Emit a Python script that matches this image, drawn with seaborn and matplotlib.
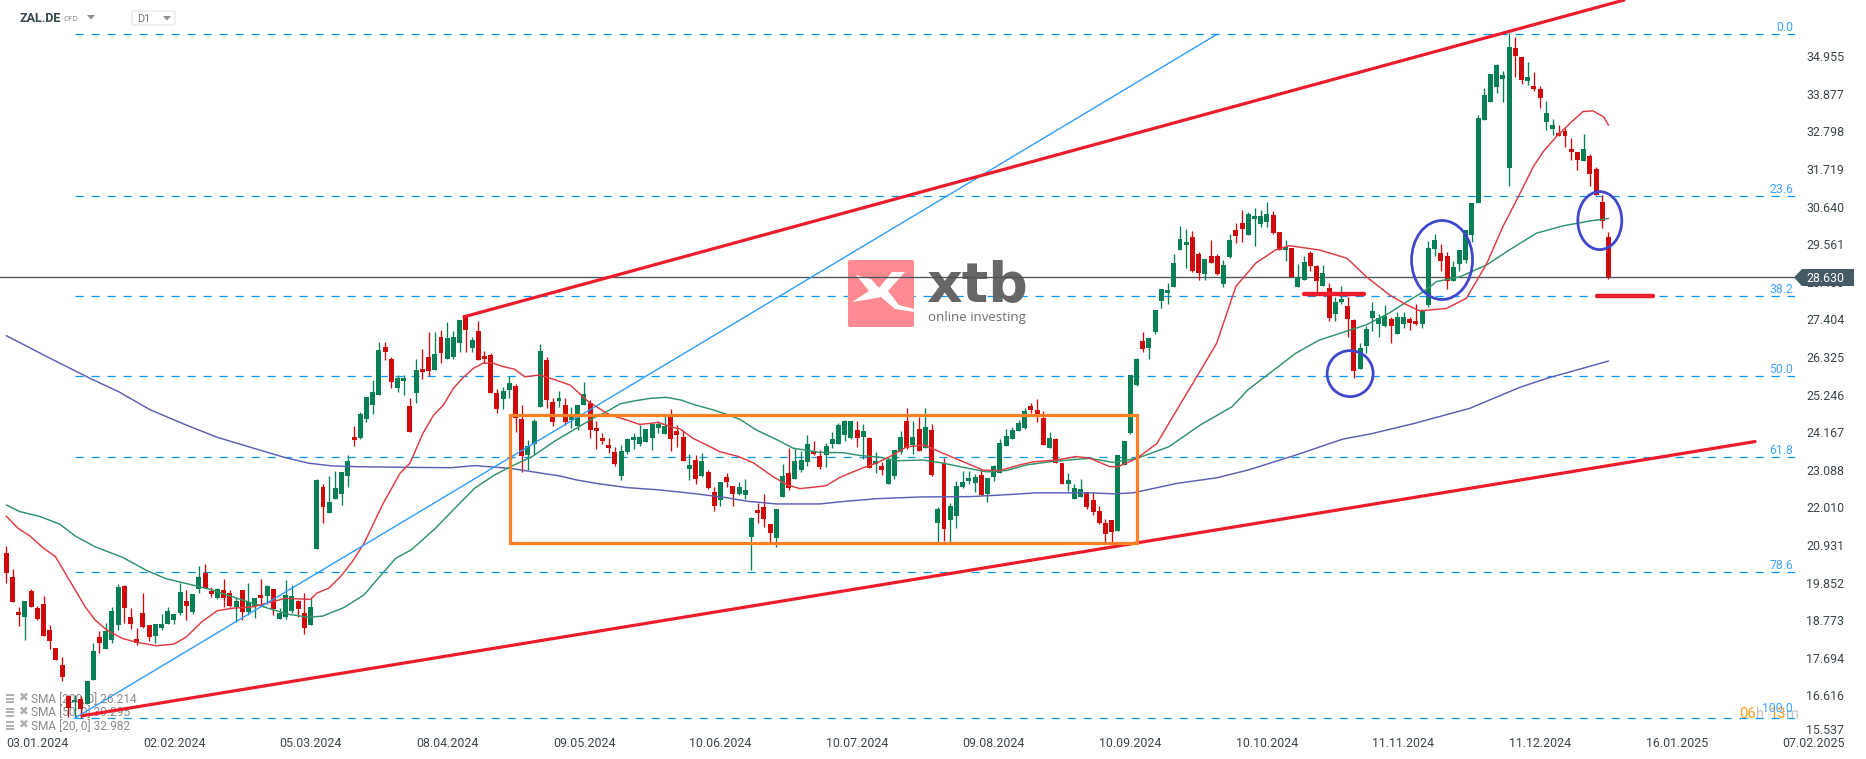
import matplotlib
matplotlib.use("Agg")
import matplotlib.pyplot as plt
import seaborn as sns
import numpy as np
import pandas as pd
from matplotlib.patches import Ellipse, Rectangle, Polygon, FancyBboxPatch
from matplotlib.transforms import Affine2D, ScaledTranslation

opens = [20.71,20.02,19.01,18.87,19.61,19.12,19.24,18.50,17.98,17.49,
 16.60,16.43,16.52,16.37,17.06,18.30,17.95,18.21,18.64,19.76,
 18.87,18.24,18.99,18.64,18.33,18.55,18.67,18.78,18.99,19.33,
 19.01,19.67,20.13,19.62,19.42,19.65,19.56,19.16,19.65,19.01,
 19.19,19.50,19.47,19.67,18.81,18.87,19.04,19.33,18.99,18.64,
 20.81,22.59,21.85,22.25,22.39,22.91,24.03,24.00,24.54,24.95,
 25.23,26.61,26.27,25.43,25.64,24.92,25.29,25.98,26.32,25.95,
 26.90,26.27,26.32,26.73,27.53,26.58,27.07,26.35,26.38,25.29,
 25.12,25.38,25.49,24.54,23.51,23.83,24.89,26.24,25.03,25.06,
 24.95,24.52,24.35,24.95,25.01,24.29,24.01,23.80,23.60,22.92,
 23.60,23.95,23.83,23.89,24.01,24.29,24.12,24.64,24.21,24.03,
 23.12,23.38,22.92,23.03,22.46,22.23,22.89,22.63,22.40,22.37,
 21.16,21.94,22.02,21.54,21.13,22.31,23.00,22.83,23.09,23.32,
 23.63,23.49,23.52,23.83,23.83,24.09,24.01,24.24,24.03,24.01,
 23.26,23.20,22.69,22.91,23.60,24.49,23.80,24.26,23.72,24.24,
 21.56,23.29,21.65,21.76,22.60,22.77,22.71,22.94,22.40,22.89,
 23.00,23.77,23.98,24.21,24.29,24.92,24.81,24.58,23.72,23.98,
 23.29,22.69,22.25,22.31,22.43,22.23,21.91,21.56,21.65,21.34,
 23.23,24.16,25.52,26.79,26.58,27.04,27.93,28.16,28.34,29.40,
 29.54,29.77,29.28,28.71,29.23,29.23,28.42,29.20,29.97,30.17,
 29.83,30.29,30.14,30.20,30.40,29.91,29.40,29.46,28.34,28.54,
 29.31,28.94,28.36,28.31,27.56,27.91,27.79,27.39,25.98,26.64,
 27.45,27.27,27.22,27.42,26.99,27.27,27.42,27.36,27.27,27.82,
 29.43,29.31,29.22,28.51,28.99,29.11,29.83,30.75,33.13,33.65,
 34.08,34.31,31.75,35.20,34.94,34.25,34.11,34.02,33.07,32.87,
 32.76,32.81,32.30,32.21,31.95,32.10,31.72,30.78,29.77]
highs = [20.91,20.25,19.16,19.33,19.66,19.18,19.47,18.64,17.98,17.72,
 16.63,16.63,16.60,17.03,18.12,18.47,18.70,19.16,19.82,19.79,
 19.13,18.55,19.56,18.64,18.67,18.96,19.16,18.96,19.85,19.65,
 19.53,20.33,20.39,19.73,19.70,19.96,19.65,19.42,19.65,19.85,
 19.42,19.96,19.79,19.67,19.13,19.93,19.79,19.36,19.56,19.44,
 22.82,22.68,22.91,23.05,23.02,23.51,24.34,24.75,25.18,25.66,
 26.75,26.75,26.32,25.81,25.81,25.15,26.27,26.55,27.04,27.04,
 27.10,27.33,27.07,27.39,27.53,26.90,27.36,26.50,26.44,25.40,
 25.46,25.78,25.55,24.95,23.94,24.54,26.70,26.32,25.15,25.35,
 25.15,24.89,24.95,25.61,25.10,24.49,24.15,24.01,23.75,23.80,
 24.01,24.15,24.38,24.26,24.44,24.49,24.64,24.84,24.38,24.24,
 23.55,23.52,23.58,23.09,22.60,22.74,23.00,22.63,22.74,22.83,
 21.74,22.14,22.40,21.54,21.97,23.26,23.72,23.72,23.63,24.09,
 23.92,23.66,23.86,24.18,24.44,24.52,24.49,24.49,24.41,24.03,
 23.60,23.32,23.46,23.66,24.21,24.87,24.49,24.61,24.87,24.41,
 22.02,23.43,22.14,22.77,23.06,23.06,22.97,23.12,22.86,23.23,
 23.98,24.26,24.32,24.52,24.87,25.01,25.12,24.78,24.18,24.01,
 23.29,23.00,22.69,22.83,22.46,22.43,22.05,21.68,21.65,23.52,
 23.92,25.81,26.30,27.04,26.87,27.68,28.28,28.45,29.28,30.09,
 30.00,29.94,29.34,29.14,29.69,29.28,29.11,29.86,30.17,30.55,
 30.49,30.60,30.55,30.78,30.52,29.91,29.69,29.46,29.00,29.23,
 29.37,28.97,28.97,28.45,28.05,28.36,28.05,27.42,26.73,27.22,
 27.91,27.56,27.82,27.47,27.62,27.62,27.47,27.85,27.70,29.66,
 29.86,29.57,29.34,29.08,29.40,29.97,30.75,33.27,34.05,34.45,
 34.74,34.54,35.62,35.51,34.94,34.79,34.51,34.11,33.67,33.16,
 32.99,32.90,32.61,32.21,32.73,32.15,31.78,30.98,29.91]
lows = [19.83,19.30,18.61,18.21,19.16,18.78,18.33,17.95,17.64,17.03,
 16.01,15.96,15.96,16.37,17.06,17.84,17.95,18.12,18.50,18.70,
 18.53,18.07,18.55,18.18,18.12,18.50,18.67,18.67,18.93,18.78,
 18.96,19.56,19.70,19.44,19.39,19.16,19.16,18.73,18.78,18.93,
 18.84,19.17,19.24,18.93,18.81,18.81,18.99,18.88,18.38,18.64,
 20.81,21.56,21.85,22.25,22.07,22.59,23.77,23.97,24.46,24.69,
 25.23,26.24,25.43,25.32,25.23,24.17,25.00,25.69,25.78,25.95,
 26.15,26.27,26.27,26.47,26.47,26.47,26.24,26.15,25.29,24.72,
 24.83,25.15,24.17,23.02,23.08,23.54,24.89,24.86,24.34,24.89,
 24.37,24.29,24.24,24.95,24.01,23.69,23.83,23.58,23.20,22.80,
 23.55,23.69,23.78,23.89,23.66,24.15,24.12,23.63,23.75,23.35,
 22.80,22.69,22.89,22.54,21.91,22.05,22.60,22.05,22.37,22.25,
 20.22,21.56,21.45,20.99,20.88,22.31,22.51,22.83,23.03,23.20,
 23.52,23.12,23.17,23.72,23.83,23.92,23.98,23.75,23.40,23.14,
 23.00,22.94,22.69,22.83,23.55,23.69,23.55,23.63,23.72,22.91,
 21.02,21.05,21.02,21.42,22.57,22.69,22.46,22.37,22.17,22.77,
 23.00,23.77,23.98,24.21,24.26,24.72,24.46,23.80,23.72,23.29,
 22.69,22.48,22.25,22.31,21.97,21.79,21.54,20.98,20.98,21.34,
 23.23,24.13,25.49,26.47,26.27,26.99,27.73,27.85,28.34,29.40,
 28.88,28.77,28.54,28.54,29.03,28.68,28.34,29.17,29.60,29.63,
 29.83,29.51,30.06,30.06,29.86,29.40,29.08,28.62,28.34,28.54,
 28.80,28.19,28.36,27.36,27.36,27.85,26.90,25.72,25.98,26.44,
 27.07,26.90,27.19,26.73,26.99,27.16,27.10,27.24,27.16,27.76,
 29.22,28.79,28.28,28.51,28.79,29.02,29.63,30.75,33.13,33.65,
 33.91,33.65,31.23,34.36,34.16,34.13,33.96,33.47,32.84,32.70,
 32.67,32.35,31.98,31.69,31.95,31.23,30.98,30.03,28.56]
closes = [20.13,19.30,18.93,19.33,19.16,18.81,18.33,18.18,17.64,17.15,
 16.26,16.49,16.23,17.03,17.89,18.12,18.47,19.04,19.73,19.13,
 18.67,18.12,18.58,18.30,18.67,18.67,19.04,18.96,19.59,19.19,
 19.53,20.02,19.70,19.53,19.67,19.42,19.19,19.33,19.01,19.30,
 19.42,19.42,19.76,19.10,18.99,19.50,19.47,19.10,18.55,19.16,
 22.79,22.02,22.16,22.56,23.02,23.34,23.94,24.69,25.18,25.32,
 26.53,26.47,25.61,25.72,25.72,24.17,25.95,25.89,25.92,26.41,
 26.44,26.87,26.90,27.39,27.10,26.81,26.24,26.27,25.29,24.83,
 25.35,25.58,24.57,23.48,23.77,24.49,26.50,25.09,24.46,25.15,
 24.46,24.61,24.95,25.27,24.24,24.21,23.92,23.72,23.26,23.63,
 23.98,24.03,24.03,24.26,24.41,24.41,24.35,23.98,24.09,23.35,
 23.23,22.83,23.35,22.57,22.05,22.74,22.74,22.40,22.60,22.51,
 21.71,21.85,21.68,21.28,21.97,22.91,22.57,23.35,23.38,23.83,
 23.55,23.17,23.77,23.98,24.38,24.49,24.49,24.01,24.21,23.14,
 23.35,23.09,23.38,23.66,24.03,23.72,24.03,23.63,24.32,22.94,
 21.97,21.39,22.05,22.63,22.74,22.86,22.89,22.37,22.86,23.20,
 23.86,24.06,24.23,24.43,24.78,24.81,24.64,23.80,24.01,23.29,
 22.69,22.80,22.57,22.54,22.02,21.88,21.56,21.25,21.31,23.52,
 23.92,25.81,26.27,26.56,26.87,27.68,28.28,28.25,29.03,29.71,
 29.63,28.80,28.74,29.14,29.03,28.71,28.97,29.69,29.80,30.00,
 30.43,30.37,30.37,30.43,29.89,29.40,29.48,28.62,28.62,29.05,
 28.94,28.51,28.74,27.45,27.91,27.99,27.42,25.92,26.59,27.13,
 27.65,27.45,27.50,27.22,27.47,27.47,27.30,27.27,27.64,29.45,
 29.68,29.08,28.51,28.91,29.40,29.97,30.75,33.19,33.85,34.45,
 34.71,34.42,35.22,34.97,34.28,34.36,34.02,33.76,33.33,32.99,
 32.67,32.67,32.21,31.98,32.30,31.58,30.98,30.23,28.63]

sma20_at = [0,1.9,3.8,6,7.9,9.5,11.1,12.7,14.3,16.2,18.7,21.3,24.2,27,28.9,31.5,34,36.6,39.8,42.3,44.9,49,50,51.9,53.8,55.7,57.6,60.7,63.4,65,67.1,68.8,70.4,72,73.6,75.2,76.8,78.4,80,81.8,83.5,85.9,88.4,90.8,93.7,96.7,98,99.9,102,105,106.9,108.5,110.6,112.8,114.9,117.9,120.3,123.5,125.7,127.8,131,132.1,134.2,138,140.1,142.3,145,147.9,150.9,154.1,157.3,160,163.2,165.4,169.1,172.3,174.5,177.7,179,182.1,185.3,188.5,191.7,194.9,198,201.2,204.4,206.6,211.4,215.9,219,222.8,225,227.6,231.9,235.1,236.2,238.4,241,243.5,245.9,247.5,249.6,251.8,253.9,255.5,257.2,258]
sma20_val = [21.76,21.41,21.19,20.84,20.60,20.12,19.64,19.16,18.78,18.49,18.25,18.13,18.04,18.09,18.28,18.73,19.05,19.12,19.16,19.28,19.40,19.37,19.55,19.69,20.02,20.45,20.98,22.13,22.99,23.28,24.14,24.66,24.95,25.43,25.74,26.00,26.15,26.15,26.05,25.98,25.76,25.81,25.67,25.52,25.05,24.71,24.62,24.52,24.39,24.45,24.33,24.26,23.99,23.80,23.61,23.47,23.29,22.89,22.66,22.55,22.61,22.64,22.87,23.15,23.28,23.47,23.75,23.80,23.56,23.32,23.08,23.07,23.23,23.32,23.37,23.47,23.42,23.18,23.18,23.42,23.85,24.81,25.76,26.72,28.35,29.02,29.40,29.52,29.40,29.16,28.63,28.10,27.87,27.65,27.72,28.01,28.34,29.01,30.07,30.93,31.79,32.22,32.65,33.03,33.37,33.39,33.22,32.98]

sma50_at = [0,2.2,5.4,8.6,11.1,14.3,18.7,22.6,25.8,28.9,32.8,37.2,42.3,45.5,48.7,50.9,54.4,57.6,60.1,62.7,65.2,69.1,72.2,75.4,78.6,81.8,84.7,88.2,91.8,94.5,96.7,98.8,100.9,103.7,106.3,108.7,110.6,113.8,115.5,118.1,120.8,124,126.7,131,134.8,137.5,140.7,143.4,147.7,150.9,154.1,157.9,161.1,164.3,168,172.3,174.5,178.3,182.1,187.2,192.3,197.4,199.9,203.8,207.6,211.4,215.2,219,222.8,225.5,228.2,230.3,234.1,238.4,241.6,246.4,250.7,255,258]
sma50_val = [22.08,21.89,21.75,21.53,21.19,20.88,20.58,20.20,19.96,19.83,19.66,19.40,19.11,18.94,18.86,18.89,19.14,19.50,20.02,20.55,20.79,21.41,21.98,22.56,22.94,23.23,23.47,23.90,24.28,24.57,24.76,24.98,25.06,25.14,25.17,25.09,24.97,24.81,24.71,24.54,24.23,23.96,23.71,23.59,23.58,23.50,23.45,23.35,23.37,23.28,23.16,23.03,23.07,23.23,23.32,23.39,23.42,23.30,23.42,23.75,24.38,24.90,25.38,25.91,26.43,26.81,27.03,27.25,27.60,27.91,28.20,28.49,28.63,28.97,29.35,29.88,30.09,30.23,30.30]

sma200_at = [0,6.6,14,18.1,23.2,28.9,34,39.8,44.9,48.7,52.5,56.3,64.6,71.6,75.4,81.2,89.2,91.8,95,99.9,105.3,110.6,116,119.2,124,131,134.8,140.1,147.1,155.2,161.6,165.9,174.5,178.3,181.5,188.5,194.9,199.9,207.6,215.2,219.7,226.7,235.6,243.8,248,258]
sma200_val = [26.94,26.33,25.67,25.33,24.81,24.38,24.02,23.71,23.44,23.28,23.20,23.18,23.16,23.15,23.21,23.13,22.91,22.80,22.70,22.58,22.51,22.41,22.29,22.19,22.11,22.11,22.18,22.26,22.31,22.32,22.38,22.43,22.43,22.40,22.43,22.70,22.86,23.08,23.51,23.97,24.12,24.42,24.85,25.46,25.71,26.21]

fib_levels = [35.59, 30.96, 28.09, 25.77, 23.46, 20.16, 15.96]
fib_labels = ["0.0", "23.6", "38.2", "50.0", "61.8", "78.6", "100.0"]
last_price = 28.63
price_ticks = [34.955,33.877,32.798,31.719,30.640,29.561,28.483,27.404,26.325,25.246,24.167,23.088,22.010,20.931,19.852,18.773,17.694,16.616,15.537]
date_ticks = [0,22,44,66,88,110,132,154,176,198,220,242,264,286]
date_labels = ["03.01.2024","02.02.2024","05.03.2024","08.04.2024","09.05.2024","10.06.2024","10.07.2024","09.08.2024","10.09.2024","10.10.2024","11.11.2024","11.12.2024","16.01.2025","07.02.2025"]
legend_rows = ["SMA [200, 0] 26.214", "SMA [50, 0] 30.295", "SMA [20, 0] 32.982"]

W, H = 1866, 759
sns.set_theme(style="white")
plt.rcParams["font.family"] = ["Roboto", "DejaVu Sans"]

df = pd.DataFrame({"o": opens, "h": highs, "l": lows, "c": closes})
df["i"] = np.arange(len(df))
df["up"] = df.c >= df.o
GREEN, RED = "#067f55", "#cf0a0a"
df["col"] = np.where(df.up, GREEN, RED)

fig = plt.figure(figsize=(W / 100, H / 100), dpi=100, facecolor="white")
AX_R, AX_B = 1795, 733
ax = fig.add_axes([0, (H - AX_B) / H, AX_R / W, AX_B / H])
ax.set_facecolor("none")
px_x0, px_dx = 6.3, 6.21
ax.set_xlim(-px_x0 / px_dx, (AX_R - px_x0) / px_dx)
ax.set_ylim(15.538, 36.571)
sns.despine(ax=ax, left=True, bottom=True, right=True, top=True)

px = Affine2D().scale(1 / W, -1 / H).translate(0, 1) + fig.transFigure

FIB = "#0a97ff"
ax.hlines(fib_levels, 11, (AX_R - px_x0) / px_dx, colors=FIB, lw=0.9,
          linestyles=[(0, (6.6, 6.2))], zorder=1)
for lv, lb in zip(fib_levels, fib_labels):
    if lb == "100.0":
        ax.text(1793, 709, lb, transform=px, ha="right", va="center", fontsize=8.8, color="#3fa4ff", zorder=2, clip_on=False)
    else:
        ax.text(1793 / AX_R, lv, lb, transform=ax.get_yaxis_transform(), ha="right", va="bottom",
                fontsize=8.8, color="#3fa4ff", zorder=2)

ax.axhline(last_price, color="#4a545a", lw=0.95, zorder=1.2)

for y, t in zip([700, 713.5, 727], legend_rows):
    ax.text(31, y, t, transform=px, ha="left", va="center", fontsize=8.6, color="#8a8a8a", zorder=1.3)
    ax.add_patch(Rectangle((6, y - 6), 8, 2.4, transform=px, color="#b0b0b0", lw=0, zorder=1.3))
    ax.add_patch(Rectangle((6, y - 2.5), 8, 2.4, transform=px, color="#b0b0b0", lw=0, zorder=1.3))
    ax.add_patch(Rectangle((6, y + 1), 8, 2.4, transform=px, color="#b0b0b0", lw=0, zorder=1.3))
    ax.text(23.5, y - 2, "\u2716", transform=px, ha="center", va="center", fontsize=8.5, color="#b0b0b0",
            family="DejaVu Sans", zorder=1.3)

ax.add_patch(FancyBboxPatch((848, 260), 66, 67, boxstyle="round,pad=0,rounding_size=2", transform=px,
                            fc="#ff8a92", ec="none", zorder=1.1))
ax.add_patch(Polygon([(856, 275), (871, 279), (879, 288), (892, 272), (905, 272), (888, 291),
                      (899, 305), (914, 309), (914, 312), (895, 309), (881, 297), (871, 299), (852, 302),
                      (869, 291)], closed=True, transform=px, fc="white", ec="none", zorder=1.15))
ax.text(926, 286, "xtb", transform=px, ha="left", va="center", fontsize=40, fontweight="bold",
        family="DejaVu Sans", color="#666666", zorder=1.15)
ax.text(928, 317, "online investing", transform=px, ha="left", va="center", fontsize=9.6,
        family="Open Sans", color="#6e6e6e", zorder=1.15)

ax.vlines(df.i, df.l, df.h, colors=df.col, lw=0.95, zorder=3)
ax.bar(df.i, (df.c - df.o).abs(), bottom=df[["o", "c"]].min(axis=1), width=0.8, color=df.col, lw=0, zorder=3.1)

for xs, ys, c in [(sma200_at, sma200_val, "#5b5fb5"), (sma50_at, sma50_val, "#2f9468"), (sma20_at, sma20_val, "#dd3b41")]:
    sns.lineplot(x=xs, y=ys, ax=ax, color=c, lw=1.05, estimator=None, sort=False, zorder=4, legend=False)

BLUE = "#2d9cff"
sns.lineplot(x=[11, 195], y=[15.96, 35.59], ax=ax, color=BLUE, lw=1.0, estimator=None, sort=False, zorder=4.2)
TR = "#ed1c2c"
sns.lineplot(x=[73.7, 260.5], y=[27.48, 36.57], ax=ax, color=TR, lw=2.3, estimator=None, sort=False, zorder=5)
sns.lineplot(x=[12.2, 281.6], y=[16.03, 23.90], ax=ax, color=TR, lw=2.3, estimator=None, sort=False, zorder=5)
for xs, lv in [([208.9, 218.7], 28.13), ([256.1, 265.2], 28.07)]:
    ax.plot(xs, [lv, lv], color=TR, lw=3.2, solid_capstyle="round", zorder=5)
ax.add_patch(Rectangle((81.1, 20.98), 101, 3.69, fc="none", ec="#ff7f27", lw=2.3, zorder=5.5))
for cx, cy, w, h in [(216.4, 25.85, 46, 46), (231.2, 29.11, 61, 79), (256.6, 30.24, 44, 58)]:
    ax.add_patch(Ellipse((cx, cy), w / px_dx, h / 34.85, fc="none", ec="#3f48cc", lw=2.0, zorder=6))

ax.yaxis.tick_right()
ax.set_yticks(price_ticks)
ax.set_yticklabels([f"{v:.3f}" for v in price_ticks])
ax.set_xticks(date_ticks)
ax.set_xticklabels(date_labels, ha="left")
ax.tick_params(axis="y", length=0, pad=8, labelsize=8.9, labelcolor="#3b464c")
ax.tick_params(axis="x", length=0, pad=3, labelsize=8.9, labelcolor="#3b464c")
ax.grid(False)
ax.set_xlabel("")
ax.set_ylabel("")
lbl = ax.get_yticklabels()[-1]
lbl.set_transform(lbl.get_transform() + ScaledTranslation(0, 4 / 100, fig.dpi_scale_trans))
ax.set_zorder(1)

ax.add_patch(Polygon([(1794, 277.5), (1802, 269), (1854, 269), (1854, 286), (1802, 286)], closed=True,
                     transform=px, fc="#455a64", ec="none", clip_on=False, zorder=10))
ax.text(1806, 278, f"{last_price:.3f}", transform=px, ha="left", va="center", fontsize=8.9, color="white",
        clip_on=False, zorder=11)

ax.text(20, 18, "ZAL.DE", transform=px, ha="left", va="center", fontsize=9, fontweight="bold", color="#37474f", zorder=11)
ax.text(64, 19, "CFD", transform=px, ha="left", va="center", fontsize=5.8, color="#8a8f92", zorder=11)
ax.add_patch(Polygon([(87, 15), (95, 15), (91, 19.5)], closed=True, transform=px, fc="#8a8f92", ec="none", zorder=11))
ax.add_patch(FancyBboxPatch((132, 11), 43, 14, boxstyle="round,pad=0,rounding_size=2", transform=px,
                            fc="white", ec="#dddddd", lw=0.7, zorder=11))
ax.text(137, 19, "D1", transform=px, ha="left", va="center", fontsize=7.8, color="#6b7478", zorder=12)
ax.add_patch(Polygon([(163, 16), (171, 16), (167, 20.5)], closed=True, transform=px, fc="#8a8f92", ec="none", zorder=12))

for x, t, c in [(1739, "06", "#ff9a1f"), (1756, "h", "#c0c0c0"), (1770, "13", "#ff9a1f"), (1786, "m", "#c0c0c0")]:
    ax.text(x, 714, t, transform=px, ha="left", va="center", fontsize=10.6, color=c, zorder=1.9, clip_on=False)

fig.savefig("out.png", dpi=100)
